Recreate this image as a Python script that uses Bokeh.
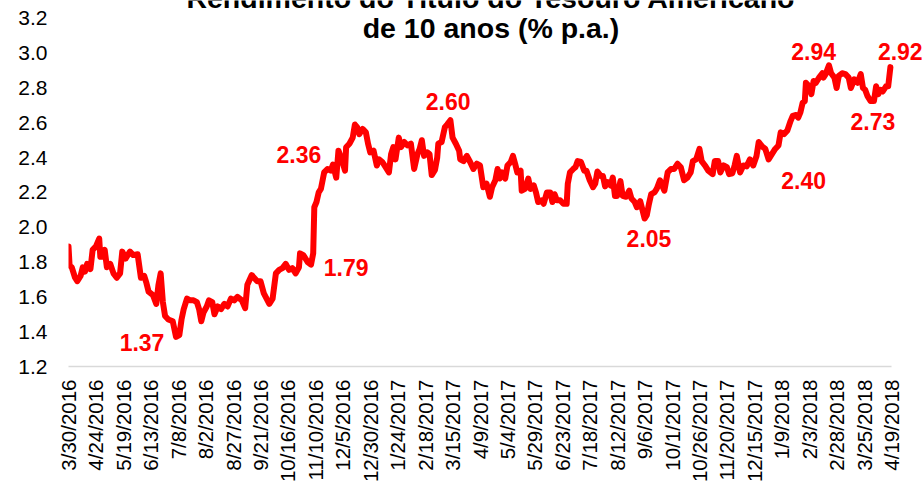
import math
from datetime import datetime
from bokeh.plotting import figure
from bokeh.models import Range1d, FixedTicker, Label, NumeralTickFormatter
from bokeh.embed import file_html
from bokeh.resources import INLINE

# ---------------- data ----------------
start_date = "3/30/2016"

day_offset = [
    0, 1, 3, 6, 8, 11, 13, 15, 17, 20, 22, 25, 28, 29, 31, 33, 35, 38, 41, 44,
    47, 49, 52, 56, 59, 63, 66, 69, 71, 73, 77, 80, 82, 84, 86, 88, 91, 95, 98, 101,
    103, 105, 108, 111, 114, 117, 119, 121, 123, 126, 128, 131, 133, 136, 139, 142, 145, 148, 151, 154,
    158, 161, 163, 167, 172, 175, 178, 183, 186, 189, 192, 195, 198, 201, 204, 207, 210, 211, 214, 218,
    221, 223, 224, 226, 228, 230, 233, 236, 239, 241, 244, 246, 249, 252, 253, 256, 259, 261, 263, 265,
    268, 271, 273, 275, 278, 281, 283, 286, 289, 292, 294, 296, 298, 301, 303, 306, 309, 312, 315, 318,
    320, 322, 324, 327, 329, 331, 334, 336, 337, 340, 343, 345, 348, 350, 353, 356, 357, 360, 363, 366,
    369, 372, 375, 378, 381, 384, 386, 389, 391, 393, 395, 398, 400, 403, 405, 407, 409, 412, 413, 416,
    419, 421, 424, 426, 428, 431, 433, 436, 439, 441, 443, 445, 448, 451, 454, 455, 457, 460, 462, 464,
    467, 470, 472, 475, 478, 480, 482, 485, 487, 489, 491, 494, 496, 498, 500, 503, 505, 508, 511, 513,
    516, 518, 521, 523, 525, 527, 529, 531, 534, 536, 539, 541, 543, 546, 549, 552, 555, 558, 561, 564,
    567, 569, 572, 575, 577, 580, 583, 587, 589, 592, 594, 597, 600, 602, 605, 607, 609, 612, 615, 618,
    621, 624, 627, 629, 632, 635, 638, 641, 644, 647, 649, 652, 655, 658, 660, 663, 665, 667, 669, 671,
    672, 675, 677, 679, 681, 684, 687, 688, 690, 693, 695, 698, 700, 702, 705, 708, 711, 713, 716, 719,
    722, 724, 726, 728, 731, 734, 736, 738, 740, 742, 745, 747, 749,
]

yield_pct = [
    1.89, 1.78, 1.77, 1.71, 1.69, 1.72, 1.77, 1.745, 1.79, 1.76, 1.87, 1.89, 1.935, 1.83, 1.83, 1.87, 1.77, 1.79, 1.735, 1.71,
    1.735, 1.86, 1.82, 1.86, 1.84, 1.845, 1.71, 1.72, 1.68, 1.63, 1.61, 1.56, 1.67, 1.735, 1.57, 1.49, 1.47, 1.46, 1.37, 1.38,
    1.47, 1.53, 1.59, 1.58, 1.58, 1.57, 1.53, 1.46, 1.51, 1.545, 1.58, 1.57, 1.50, 1.545, 1.53, 1.56, 1.545, 1.59, 1.58, 1.60,
    1.58, 1.535, 1.67, 1.725, 1.69, 1.69, 1.62, 1.56, 1.59, 1.735, 1.755, 1.765, 1.79, 1.755, 1.765, 1.735, 1.77, 1.85, 1.84, 1.80,
    1.785, 1.85, 2.115, 2.145, 2.20, 2.22, 2.315, 2.335, 2.325, 2.36, 2.285, 2.44, 2.39, 2.325, 2.46, 2.48, 2.515, 2.59, 2.575, 2.535,
    2.565, 2.545, 2.48, 2.43, 2.44, 2.355, 2.39, 2.375, 2.345, 2.315, 2.42, 2.46, 2.39, 2.515, 2.46, 2.49, 2.47, 2.48, 2.335, 2.42,
    2.45, 2.50, 2.41, 2.43, 2.42, 2.30, 2.33, 2.40, 2.48, 2.49, 2.575, 2.59, 2.615, 2.515, 2.48, 2.44, 2.39, 2.38, 2.41, 2.375,
    2.335, 2.365, 2.355, 2.23, 2.25, 2.175, 2.23, 2.27, 2.335, 2.28, 2.315, 2.28, 2.355, 2.375, 2.41, 2.365, 2.315, 2.325, 2.21, 2.22,
    2.28, 2.22, 2.24, 2.20, 2.145, 2.155, 2.135, 2.20, 2.20, 2.145, 2.19, 2.155, 2.155, 2.135, 2.135, 2.25, 2.315, 2.335, 2.345, 2.38,
    2.375, 2.325, 2.325, 2.27, 2.23, 2.25, 2.32, 2.295, 2.295, 2.235, 2.26, 2.24, 2.285, 2.18, 2.18, 2.265, 2.18, 2.175, 2.21, 2.165,
    2.145, 2.115, 2.15, 2.10, 2.05, 2.07, 2.135, 2.19, 2.20, 2.22, 2.27, 2.24, 2.21, 2.315, 2.335, 2.335, 2.365, 2.345, 2.27, 2.285,
    2.315, 2.38, 2.39, 2.45, 2.38, 2.355, 2.325, 2.305, 2.38, 2.38, 2.315, 2.355, 2.345, 2.305, 2.31, 2.355, 2.41, 2.315, 2.355, 2.35,
    2.39, 2.355, 2.41, 2.49, 2.465, 2.45, 2.39, 2.42, 2.45, 2.47, 2.545, 2.535, 2.555, 2.61, 2.64, 2.645, 2.63, 2.66, 2.715, 2.725,
    2.83, 2.81, 2.765, 2.84, 2.83, 2.86, 2.885, 2.86, 2.88, 2.93, 2.885, 2.86, 2.80, 2.87, 2.885, 2.88, 2.86, 2.80, 2.85, 2.83,
    2.88, 2.80, 2.79, 2.755, 2.725, 2.725, 2.81, 2.765, 2.79, 2.78, 2.81, 2.81, 2.92,
]

tick_labels = [
    "3/30/2016", "4/24/2016", "5/19/2016", "6/13/2016", "7/8/2016", "8/2/2016", "8/27/2016",
    "9/21/2016", "10/16/2016", "11/10/2016", "12/5/2016", "12/30/2016", "1/24/2017", "2/18/2017",
    "3/15/2017", "4/9/2017", "5/4/2017", "5/29/2017", "6/23/2017", "7/18/2017", "8/12/2017",
    "9/6/2017", "10/1/2017", "10/26/2017", "11/20/2017", "12/15/2017", "1/9/2018", "2/3/2018",
    "2/28/2018", "3/25/2018", "4/19/2018",
]

y_ticks = [1.2, 1.4, 1.6, 1.8, 2.0, 2.2, 2.4, 2.6, 2.8, 3.0, 3.2]

title_lines = ["Rendimento do Título do Tesouro Americano", "de 10 anos (% p.a.)"]

# value labels and their anchor (day offset, value) in data space
ann_text = ["1.37", "1.79", "2.36", "2.60", "2.05", "2.40", "2.94", "2.73", "2.92"]
ann_day = [67, 253, 210, 346, 529, 670, 679, 733, 758]
ann_value = [1.337, 1.771, 2.417, 2.723, 1.933, 2.267, 3.010, 2.610, 3.010]

# ---------------- chart ----------------
FONT = "Liberation Sans"
RED = "#FF0000"
PX_PER_DAY = 823 / 750      # horizontal scale of the original
PX_PER_UNIT = 175           # vertical scale of the original (px per 1 p.p.)

t0 = datetime.strptime(start_date, "%m/%d/%Y")
tick_pos = [(datetime.strptime(t, "%m/%d/%Y") - t0).days for t in tick_labels]

W, H = 924, 485
LEFT, BOTTOM = 68, 117
# the plotting frame is extended to the right and top edges so that the
# value labels and the title (which sit outside the data area) are not clipped
x_end = tick_pos[0] + (W - LEFT) / PX_PER_DAY
y_end = y_ticks[0] + (H - BOTTOM) / PX_PER_UNIT

p = figure(
    width=W, height=H,
    output_backend="svg", toolbar_location=None,
    x_range=Range1d(tick_pos[0], x_end),
    y_range=Range1d(y_ticks[0], y_end),
    min_border_left=LEFT, min_border_right=0,
    min_border_top=0, min_border_bottom=BOTTOM,
)
p.outline_line_color = None
p.grid.visible = False
p.background_fill_color = "white"
p.border_fill_color = "white"

p.line(day_offset, yield_pct, line_width=6, line_color=RED,
       line_join="round", line_cap="round")

# x axis
xa = p.xaxis[0]
xa.bounds = (tick_pos[0], tick_pos[-1])
xa.ticker = FixedTicker(ticks=tick_pos)
xa.major_label_overrides = {tp: lbl for tp, lbl in zip(tick_pos, tick_labels)}
xa.major_label_orientation = math.pi / 2
xa.major_tick_in = 0
xa.major_tick_out = 0
xa.minor_tick_in = 0
xa.minor_tick_out = 0
xa.axis_line_color = "#d9d9d9"
xa.axis_line_width = 1.5
xa.major_label_standoff = 13
xa.major_label_text_font = FONT
xa.major_label_text_font_size = "20.5px"
xa.major_label_text_color = "#000000"

# y axis
ya = p.yaxis[0]
ya.ticker = FixedTicker(ticks=y_ticks)
ya.formatter = NumeralTickFormatter(format="0.0")
ya.axis_line_color = None
ya.major_tick_in = 0
ya.major_tick_out = 0
ya.minor_tick_in = 0
ya.minor_tick_out = 0
ya.major_label_standoff = 21
ya.major_label_text_font = FONT
ya.major_label_text_font_size = "21px"
ya.major_label_text_color = "#000000"

# title (two lines, the first runs off the top edge as in the original)
p.add_layout(Label(x=385, y=3.316, text=title_lines[0], text_align="center",
                   text_baseline="alphabetic", text_font=FONT, text_font_size="28.5px",
                   text_font_style="bold", text_color="#000000"))
p.add_layout(Label(x=385, y=3.144, text=title_lines[1], text_align="center",
                   text_baseline="alphabetic", text_font=FONT, text_font_size="28.5px",
                   text_font_style="bold", text_color="#000000"))

# value annotations
for t, d, v in zip(ann_text, ann_day, ann_value):
    p.add_layout(Label(x=d, y=v, text=t, text_align="center", text_baseline="alphabetic",
                       text_font=FONT, text_font_size="23px", text_font_style="bold",
                       text_color=RED))

open("out.html", "w").write(file_html(p, INLINE))
